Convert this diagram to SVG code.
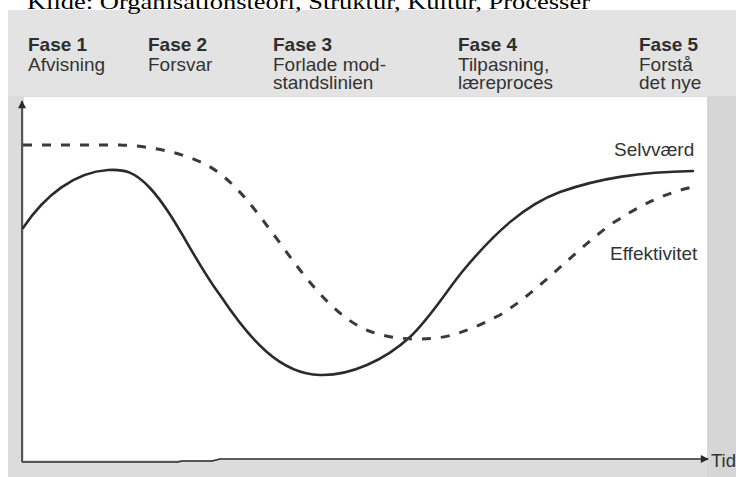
<svg xmlns="http://www.w3.org/2000/svg" width="736" height="477" viewBox="0 0 736 477">
  <defs>
    <style>
      .title { font-family: "Liberation Serif", "Times New Roman", serif; font-size: 22px; fill: #000; }
      .phase { font-family: "Liberation Sans", Arial, sans-serif; font-size: 19px; fill: #333; }
      .phase-b { font-weight: bold; fill: #2e2e2e; }
      .lbl { font-family: "Liberation Sans", Arial, sans-serif; font-size: 19px; fill: #333; }
      .axis { fill: none; stroke: #2a2a2a; stroke-width: 1.5; }
      .solid { fill: none; stroke: #2b2b2b; stroke-width: 2.6; stroke-linecap: round; }
      .dashed { fill: none; stroke: #3a3a3a; stroke-width: 3; stroke-dasharray: 9 10; }
    </style>
    <marker id="arr" viewBox="0 0 10 10" refX="9" refY="5" markerWidth="10" markerHeight="8" orient="auto" markerUnits="userSpaceOnUse">
      <path d="M0,0 L10,5 L0,10 Z" fill="#2a2a2a"/>
    </marker>
  </defs>

  <rect x="0" y="0" width="736" height="477" fill="#ffffff"/>
  <g id="background">
    <rect x="8" y="10" width="728" height="467" fill="#dcdcdc"/>
    <rect x="8" y="10" width="728" height="86" fill="#e3e3e3"/>
    <rect x="707" y="96" width="29" height="381" fill="#d6d6d6"/>
    <rect x="24" y="97" width="683" height="363" fill="#ffffff"/>
  </g>

  <g id="title">
    <text class="title" x="27" y="9" textLength="563" lengthAdjust="spacingAndGlyphs">Kilde: Organisationsteori, Struktur, Kultur, Processer</text>
  </g>

  <g id="phase1">
    <text class="phase phase-b" x="28" y="51">Fase 1</text>
    <text class="phase" x="28" y="71">Afvisning</text>
  </g>
  <g id="phase2">
    <text class="phase phase-b" x="148" y="51">Fase 2</text>
    <text class="phase" x="148" y="71">Forsvar</text>
  </g>
  <g id="phase3">
    <text class="phase phase-b" x="273" y="51">Fase 3</text>
    <text class="phase" x="273" y="71">Forlade mod-</text>
    <text class="phase" x="273" y="89">standslinien</text>
  </g>
  <g id="phase4">
    <text class="phase phase-b" x="458" y="51">Fase 4</text>
    <text class="phase" x="458" y="71">Tilpasning,</text>
    <text class="phase" x="458" y="89">læreproces</text>
  </g>
  <g id="phase5">
    <text class="phase phase-b" x="639" y="51">Fase 5</text>
    <text class="phase" x="639" y="71">Forstå</text>
    <text class="phase" x="639" y="89">det nye</text>
  </g>

  <g id="axes">
    <line class="axis" x1="22" y1="462" x2="22" y2="101" marker-end="url(#arr)"/>
    <polyline class="axis" points="22,462 178,462 182,461 212,461 220,459 708,459" marker-end="url(#arr)"/>
    <text class="lbl" x="711" y="467" font-size="20" textLength="25" lengthAdjust="spacingAndGlyphs">Tid</text>
  </g>

  <g id="curves">
    <path id="selvvaerd-curve" class="solid" d="M23,228 C45,195 75,172 108,170 C125,169 135,172 150,188 C175,215 195,262 220,295 C250,340 280,374 320,375 C350,376 385,360 410,337 C430,318 445,293 462,272 C495,232 525,205 560,192 C600,178 640,172 693,171"/>
    <path id="effektivitet-curve" class="dashed" d="M23,145 L120,145 C150,146 180,152 205,164 C235,180 255,210 280,243 C305,278 330,310 360,327 C380,337 400,339 420,339 C450,339 470,330 500,315 C540,290 570,255 610,225 C640,205 665,193 693,187"/>
  </g>

  <g id="selvvaerd-label">
    <text class="lbl" x="614" y="156">Selvværd</text>
  </g>
  <g id="effektivitet-label">
    <text class="lbl" x="610" y="260">Effektivitet</text>
  </g>
</svg>
